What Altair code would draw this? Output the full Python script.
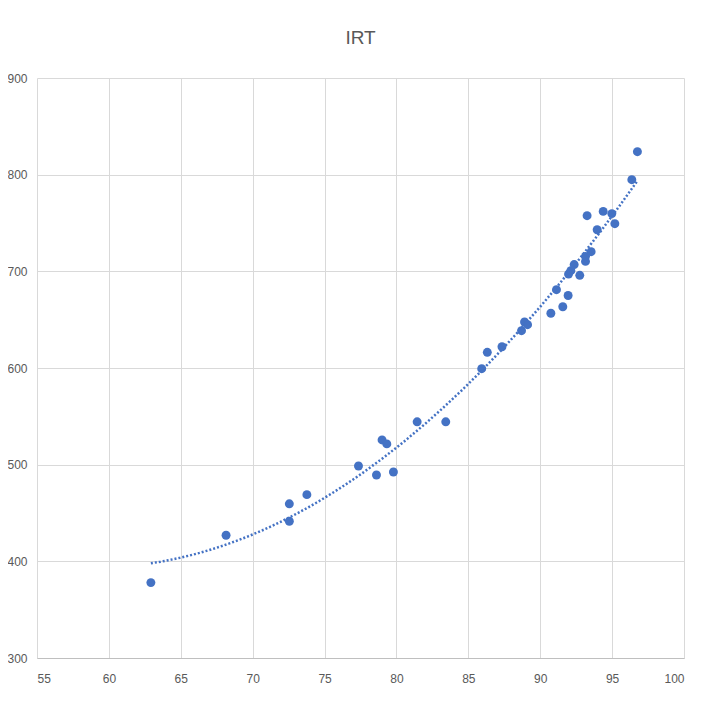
import altair as alt
import pandas as pd

x_vals = [62.92, 68.15, 72.55, 72.55, 73.77, 77.36, 78.61, 79.0, 79.33, 79.79,
          81.44, 83.43, 85.93, 86.32, 87.34, 88.7, 88.91, 89.12, 90.74, 91.13,
          91.57, 91.94, 91.97, 92.13, 92.36, 92.75, 93.15, 93.15, 93.26, 93.54,
          93.96, 94.38, 94.98, 95.19, 96.37, 96.76]
y_vals = [378, 427, 459.5, 441.5, 469, 498.6, 489.3, 525.6, 521.5, 492.4,
          544.3, 544.3, 599.3, 616.2, 622, 638.6, 647.6, 644.8, 656.6, 681,
          663.4, 675, 697.2, 700.7, 707, 695.9, 710.3, 715.5, 757.6, 720.3,
          743, 762, 759.7, 749.3, 794.8, 823.8]
x_ticks = [55, 60, 65, 70, 75, 80, 85, 90, 95, 100]
y_ticks = [300, 400, 500, 600, 700, 800, 900]

df = pd.DataFrame({"x": x_vals, "y": y_vals})

FONT = "Liberation Sans"
BLUE = "#4472C4"

xenc = alt.X("x:Q", scale=alt.Scale(domain=[55, 100], nice=False, zero=False),
             axis=alt.Axis(values=x_ticks, title=None, grid=True, gridColor="#d9d9d9",
                           domain=True, domainColor="#bfbfbf", ticks=False,
                           labelPadding=15, labelColor="#595959", labelFont=FONT,
                           labelFontSize=12))
yenc = alt.Y("y:Q", scale=alt.Scale(domain=[300, 900], nice=False, zero=False),
             axis=alt.Axis(values=y_ticks, title=None, grid=True, gridColor="#d9d9d9",
                           domain=False, ticks=False, labelPadding=10,
                           labelColor="#595959", labelFont=FONT, labelFontSize=12))

points = alt.Chart(df).mark_circle(size=80, color=BLUE, opacity=1).encode(x=xenc, y=yenc)

trend = alt.Chart(df).transform_regression(
    "x", "y", method="poly", order=2
).mark_line(color=BLUE, strokeWidth=2.5, strokeDash=[2, 2], strokeCap="butt").encode(
    x=alt.X("x:Q"), y=alt.Y("y:Q"))

chart = alt.layer(points, trend).properties(
    width=647, height=580,
    title=alt.TitleParams("IRT", font=FONT, fontSize=19, fontWeight="normal",
                          color="#595959", anchor="middle", offset=24),
    autosize=alt.AutoSizeParams(type="none"),
    padding={"left": 29, "top": 70, "right": 10, "bottom": 40},
    background="white",
).configure_view(stroke="transparent")

chart.save("out.html", embed_options={"renderer": "svg", "actions": False})
